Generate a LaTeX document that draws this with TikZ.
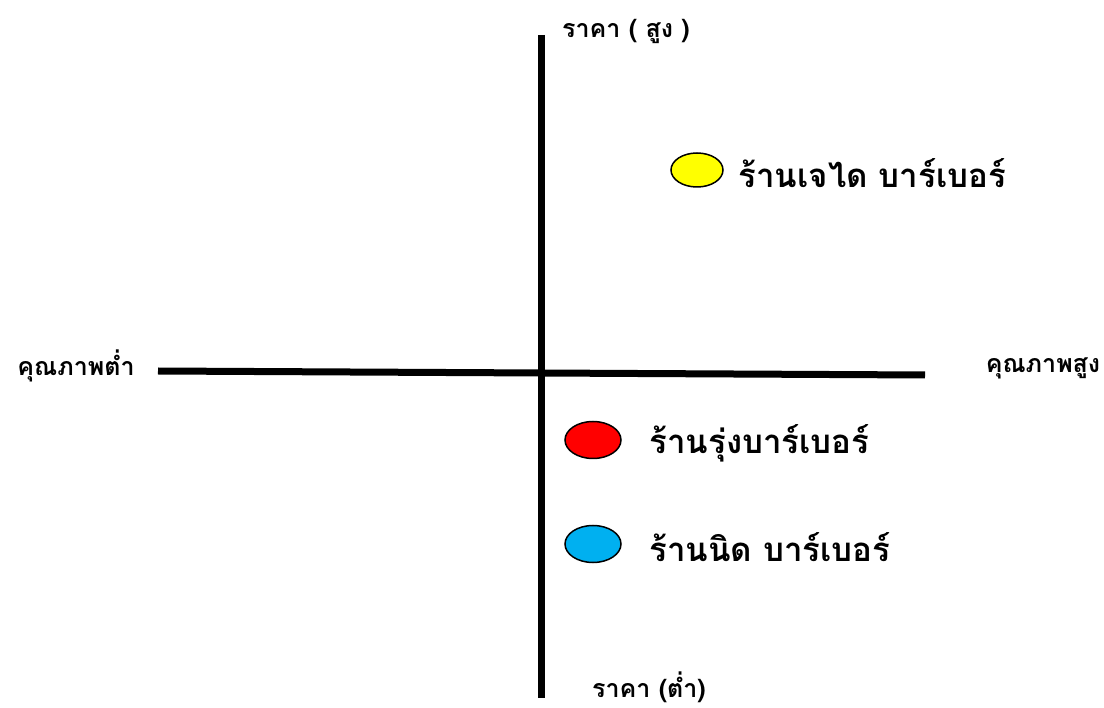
\documentclass[tikz,border=0pt]{standalone}
\usepackage{fontspec}
\newfontfamily\thaifont[Script=Thai]{Loma}
\usepackage{tikz}
\usetikzlibrary{shapes.geometric,positioning}
\definecolor{shopyellow}{RGB}{255,255,0}
\definecolor{shopred}{RGB}{255,0,0}
\definecolor{shopblue}{RGB}{0,176,240}
\tikzset{
    axisline/.style={line width=7pt, black},
    axislabel/.style={font=\thaifont\bfseries\fontsize{25}{30}\selectfont, inner sep=0pt},
    shopdot/.style={ellipse, draw=black, line width=1.5pt, minimum width=56pt, minimum height=37pt, inner sep=0pt},
    shoplabel/.style={font=\thaifont\bfseries\fontsize{33}{40}\selectfont, anchor=west}
}

\begin{document}
\begin{tikzpicture}[x=1pt, y=-1pt]
    \useasboundingbox (0,0) rectangle (1104,708);
    % Axes
    \coordinate (top) at (541,35);
    \coordinate (bottom) at (541,698);
    \coordinate (left) at (158,371);
    \coordinate (right) at (925,375);
    \draw[axisline] (top) -- (bottom);
    \draw[axisline] (left) -- (right);

    % Axis labels
    \node[axislabel] (hiprice) at (626,31) {ราคา ( สูง )};
    \node[axislabel] (loprice) at (649,687) {ราคา (ต่ำ)};
    \node[axislabel] (loqual) at (76,366) {คุณภาพต่ำ};
    \node[axislabel] (hiqual) at (1043,368) {คุณภาพสูง};

    % Shops
    \node[shopdot, fill=shopyellow, minimum width=52pt, minimum height=34pt] (jedai) at (697,170) {};
    \node[shoplabel] (jedaitxt) at (735,173) {ร้านเจได บาร์เบอร์};

    \node[shopdot, fill=shopred] (rung) at (593,440) {};
    \node[shoplabel] (rungtxt) at (646,443) {ร้านรุ่งบาร์เบอร์};

    \node[shopdot, fill=shopblue] (nit) at (593,544) {};
    \node[shoplabel] (nittxt) at (646,547) {ร้านนิด บาร์เบอร์};
\end{tikzpicture}
\end{document}
